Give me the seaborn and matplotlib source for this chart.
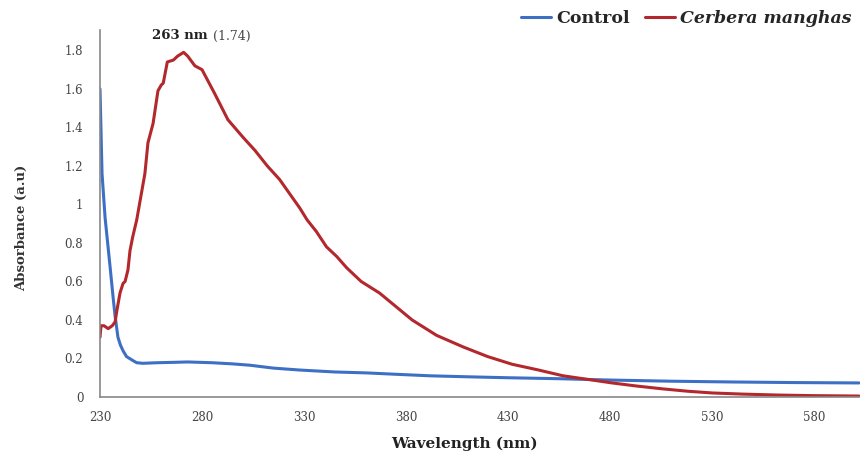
import matplotlib
matplotlib.use("Agg")
import matplotlib.pyplot as plt
import seaborn as sns
import pandas as pd

# UV-Vis absorbance spectra
ctrl_nm = [230, 231, 232.5, 235, 236.4, 237.4, 238.8, 240, 241.3, 243, 246, 248, 251,
           258, 266, 273, 285, 295, 303.5, 315, 328, 345, 361, 375, 392, 410, 430,
           455, 480, 510, 540, 570, 602]
ctrl_abs = [1.60, 1.16, 0.93, 0.67, 0.52, 0.42, 0.31, 0.27, 0.24, 0.21, 0.19, 0.178, 0.175,
            0.178, 0.18, 0.182, 0.178, 0.172, 0.165, 0.15, 0.14, 0.13, 0.125, 0.118, 0.11,
            0.105, 0.10, 0.095, 0.088, 0.082, 0.078, 0.075, 0.073]

cm_nm = [230, 230.5, 232, 234, 236, 237.4, 238.3, 239.8, 241.3, 242.3, 243.7, 244.7, 246,
         248, 250, 252, 253.5, 256, 258.4, 260, 261, 263, 266, 268, 271, 273, 276.5, 280,
         286, 292.7, 300, 306, 312, 318, 324, 328, 331.5, 336, 341, 346, 351, 358, 367,
         375, 383, 395, 408, 420, 432, 445, 457, 470, 481, 493, 506, 518, 530, 545, 563,
         580, 602]
cm_abs = [0.31, 0.37, 0.37, 0.355, 0.37, 0.39, 0.45, 0.54, 0.59, 0.60, 0.66, 0.76, 0.83,
          0.92, 1.04, 1.16, 1.32, 1.42, 1.59, 1.62, 1.63, 1.74, 1.75, 1.77, 1.79, 1.77, 1.72,
          1.70, 1.58, 1.44, 1.35, 1.28, 1.20, 1.13, 1.04, 0.98, 0.92, 0.86, 0.78, 0.73, 0.67,
          0.60, 0.54, 0.47, 0.40, 0.32, 0.26, 0.21, 0.17, 0.14, 0.11, 0.09, 0.073, 0.057,
          0.042, 0.03, 0.021, 0.015, 0.01, 0.007, 0.005]

series_names = ["Control", "Cerbera manghas"]
series_colors = ["#3d6fc4", "#b3282d"]

x_ticks = [230, 280, 330, 380, 430, 480, 530, 580]
y_ticks = [0, 0.2, 0.4, 0.6, 0.8, 1, 1.2, 1.4, 1.6, 1.8]
y_ticklabels = ["0", "0.2", "0.4", "0.6", "0.8", "1", "1.2", "1.4", "1.6", "1.8"]

peak_nm, peak_abs = 263, 1.74

df = pd.concat([
    pd.DataFrame({"nm": ctrl_nm, "abs": ctrl_abs, "sample": series_names[0]}),
    pd.DataFrame({"nm": cm_nm, "abs": cm_abs, "sample": series_names[1]}),
], ignore_index=True)

sns.set_style("white")
plt.rcParams["font.family"] = ["DejaVu Serif"]

fig = plt.figure(figsize=(8.6, 4.54), dpi=100)
ax = fig.add_axes([100 / 860, 57 / 454, 760 / 860, 367 / 454])

sns.lineplot(data=df, x="nm", y="abs", hue="sample", palette=series_colors,
             hue_order=series_names, estimator=None, sort=False, lw=2.2, ax=ax,
             legend=False)

ax.set_xlim(230, 602.5)
ax.set_ylim(0, 1.906)
ax.set_xticks(x_ticks)
ax.set_xticklabels([str(t) for t in x_ticks])
ax.set_yticks(y_ticks)
ax.set_yticklabels(y_ticklabels)
ax.tick_params(axis="both", direction="out", length=4, width=1, color="#888888",
               labelsize=8.5, labelcolor="#444444")
ax.tick_params(axis="y", pad=8)
ax.tick_params(axis="x", pad=6)

for side in ["top", "right"]:
    ax.spines[side].set_visible(False)
for side in ["left", "bottom"]:
    ax.spines[side].set_color("#888888")
    ax.spines[side].set_linewidth(1.2)

ax.set_xlabel("Wavelength (nm)", fontsize=11, fontweight="bold", color="#222222")
ax.xaxis.set_label_coords(0.48, -0.148)
ax.xaxis.label.set_va("bottom")
ax.set_ylabel("Absorbance (a.u)", fontsize=9.5, fontweight="bold", color="#333333")
ax.yaxis.set_label_coords(-0.103, 0.46)
ax.yaxis.label.set_va("center")

# peak annotation
ax.annotate(f"{peak_nm} nm", xy=(peak_nm, peak_abs), xytext=(255.5, 1.875),
            textcoords="data", fontsize=9.5, fontweight="bold", color="#222222",
            ha="left", va="center")
ax.text(285.5, 1.875, f"({peak_abs:.2f})", fontsize=9, color="#444444",
        ha="left", va="center")

handles = [plt.Line2D([], [], color=c, lw=2.2) for c in series_colors]
leg = fig.legend(handles, series_names, loc="upper right", bbox_to_anchor=(1.008, 1.012),
                 ncol=2, frameon=False, handlelength=1.7, handletextpad=0.3,
                 columnspacing=0.9, prop={"size": 12.5, "weight": "bold"})
leg.get_texts()[1].set_fontstyle("italic")

fig.savefig("out.png", dpi=100)
